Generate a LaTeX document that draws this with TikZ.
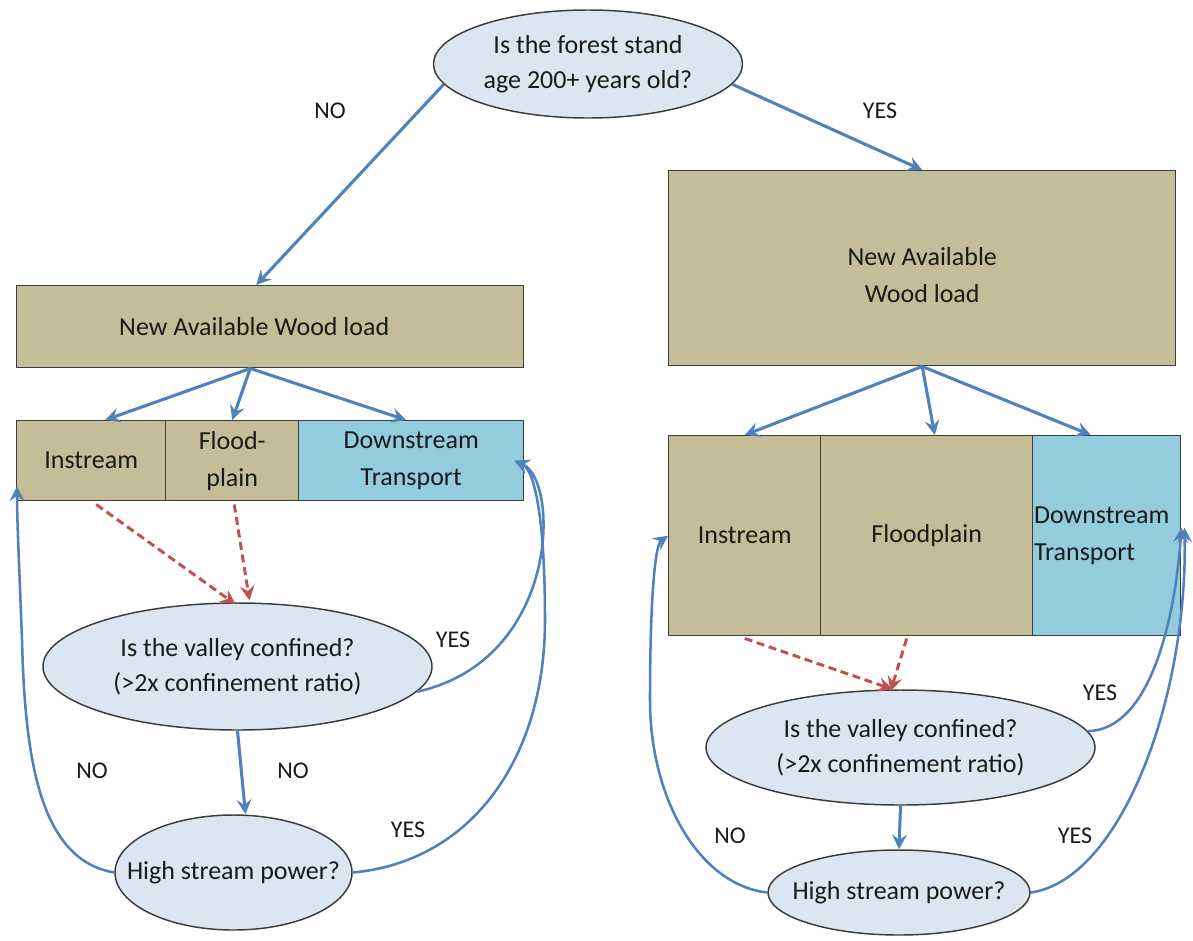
\documentclass[tikz,border=0pt]{standalone}
\usepackage{fontspec}
\setmainfont{Carlito}
\usetikzlibrary{shapes.geometric,arrows.meta,calc}
\definecolor{tanfill}{HTML}{C4BD97}
\definecolor{aquafill}{HTML}{93CDDD}
\definecolor{ellfill}{HTML}{DCE6F2}
\definecolor{arrowblue}{HTML}{4F81BD}
\definecolor{dashred}{HTML}{C0504D}
\definecolor{edgecol}{HTML}{3C3C3C}
\definecolor{txtcol}{HTML}{1A1A1A}
\begin{document}
\begin{tikzpicture}[x=0.75pt,y=-0.75pt,
  every node/.style={text=txtcol, font=\fontsize{19.5}{26}\selectfont},
  box/.style={draw=edgecol, line width=1.1pt, fill=tanfill, inner sep=0pt, align=center, anchor=north west, font=\fontsize{19.5}{27.5}\selectfont},
  bluebox/.style={box, fill=aquafill},
  qell/.style={ellipse, draw=edgecol, line width=1.1pt, fill=ellfill, inner sep=0pt, align=center},
  flowline/.style={draw=arrowblue, line width=2.3pt, -{Stealth[length=11pt,width=11pt,inset=4pt]}},
  loopline/.style={flowline, line width=1.9pt},
  reddash/.style={draw=dashred, line width=2.2pt, dash pattern=on 6pt off 3.5pt, -{Stealth[length=11pt,width=11pt,inset=4pt]}},
  ans/.style={font=\fontsize{18}{20}\selectfont}
]
\useasboundingbox (0,0) rectangle (1193,940);
\fill[white] (0,0) rectangle (1193,940);

% top question
\node[qell, minimum width=231.75pt, minimum height=81pt] (q1) at (588,64) {Is the forest stand\\age 200+ years old?};

% left branch
\node[box, minimum width=380.25pt, minimum height=61.5pt] (lw) at (16,285) {New Available Wood load\hspace*{24pt}};
\node[box, minimum width=111.75pt, minimum height=60pt] (inL) at (16,420) {\raisebox{-6pt}{Instream}};
\node[box, minimum width=99.75pt, minimum height=60pt] (fpL) at (165,420) {Flood-\\plain};
\node[bluebox, minimum width=168.75pt, minimum height=60pt] (dtL) at (298,420) {Downstream\\Transport};
\node[qell, minimum width=291.75pt, minimum height=95.25pt] (vL) at (237.5,666.5) {Is the valley confined?\\(>2x confinement ratio)};
\node[qell, inner xsep=-25pt, minimum width=177.75pt, minimum height=86.25pt] (hL) at (233.5,872.5) {High stream power?};

% right branch
\node[box, minimum width=380.25pt, minimum height=146.25pt] (bR) at (668,170) {\\[-4pt]New Available\\Wood load};
\node[box, minimum width=114pt, minimum height=150pt] (inR) at (668,435) {Instream};
\node[box, minimum width=159pt, minimum height=150pt] (fpR) at (820,435) {Floodplain};
\node[bluebox, minimum width=111pt, minimum height=150pt, text width=109pt, align=left] (dtR) at (1032,435) {Downstream\\Transport};
\node[qell, minimum width=291.75pt, minimum height=86.25pt] (vR) at (900.5,747.5) {Is the valley confined?\\(>2x confinement ratio)};
\node[qell, inner xsep=-25pt, minimum width=196.5pt, minimum height=63.75pt] (hR) at (899,892.5) {High stream power?};

% answer labels
\node[ans] (noT) at (330,111) {NO};
\node[ans] (yesT) at (880,111) {YES};
\node[ans] (yesVL) at (453,640) {YES};
\node[ans] (noL1) at (92,771) {NO};
\node[ans] (noL2) at (293,771) {NO};
\node[ans] (yesHL) at (408,830) {YES};
\node[ans] (yesVR) at (1100,693) {YES};
\node[ans] (noR) at (730,836) {NO};
\node[ans] (yesHR) at (1075,836) {YES};

% top arrows
\draw[flowline] (q1.188) -- ($(lw.north)+(-14,0)$);
\draw[flowline] (q1.-8) -- (bR.north);

% split arrows left
\draw[flowline] ($(lw.south)+(-20,0)$) -- ($(inL.north)+(14,0)$);
\draw[flowline] ($(lw.south)+(-20,0)$) -- (fpL.north);
\draw[flowline] ($(lw.south)+(-20,0)$) -- ($(dtL.north)+(-5,0)$);

% split arrows right
\draw[flowline] (bR.south) -- (inR.north);
\draw[flowline] (bR.south) -- ($(fpR.north)+(8,0)$);
\draw[flowline] (bR.south) -- ($(dtR.north)+(-16,0)$);

% red dashed
\draw[reddash] ($(inL.south)+(5,3)$) -- ($(vL.north)+(-2,2)$);
\draw[reddash] ($(fpL.south)+(2,3)$) -- ($(vL.north)+(12,-2)$);
\draw[reddash] ($(inR.south)+(0,2)$) -- ($(vR.north)+(-8,0)$);
\draw[reddash] ($(fpR.south)+(-20,2)$) -- ($(vR.north)+(-10,2)$);

% valley -> stream power
\draw[flowline] (vL.south) -- ($(hL.north)+(12,0)$);
\draw[flowline] (vR.south) -- (hR.north);

% loops left
\draw[loopline] (hL.west) .. controls (40,860) and (25,760) .. (22,640) .. controls (19,560) and (17,520) .. ($(inL.south west)+(1,-15)$);
\draw[loopline] (vL.-8) .. controls (560,660) and (560,480) .. ($(dtL.east)+(-10,0)$);
\draw[loopline] (hL.east) .. controls (470,862) and (545,760) .. (545,620) .. controls (545,520) and (535,470) .. ($(dtL.east)+(-10,0)$);

% loops right
\draw[loopline] (hR.west) .. controls (700,885) and (650,800) .. (650,700) .. controls (650,600) and (655,545) .. (inR.west);
\draw[loopline] (vR.5) .. controls (1150,730) and (1175,620) .. ($(dtR.east)+(0,-8)$);
\draw[loopline] (hR.east) .. controls (1120,880) and (1188,700) .. ($(dtR.east)+(3,-8)$);
\end{tikzpicture}
\end{document}
